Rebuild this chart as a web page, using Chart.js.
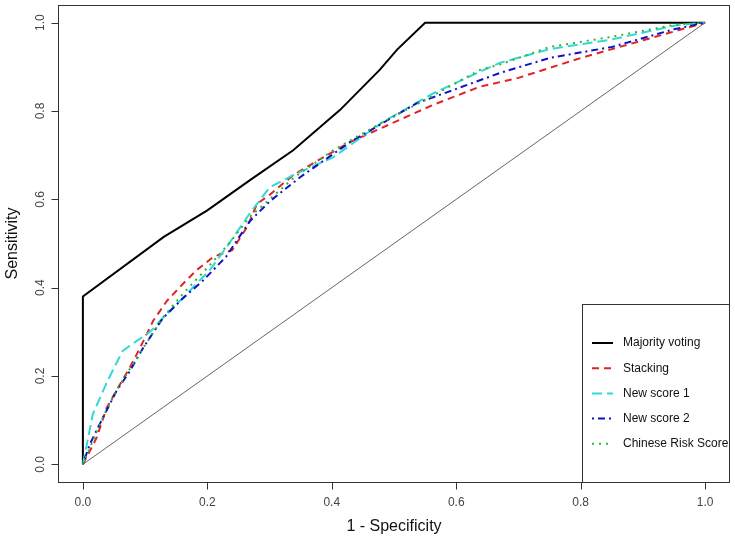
<!DOCTYPE html>
<html>
<head>
<meta charset="utf-8">
<script src="https://cdn.jsdelivr.net/npm/chart.js@4.4.1/dist/chart.umd.min.js"></script>
<style>
  body { margin: 0; background: #fff; }
</style>
</head>
<body>
<canvas id="rocChart" width="735" height="548"></canvas>
<script>
// ROC curves (x = 1 - specificity, y = sensitivity)
const majorityX = [0, 0, 0.13, 0.2, 0.268, 0.338, 0.413, 0.477, 0.505, 0.55, 1];
const majorityY = [0, 0.38, 0.515, 0.575, 0.643, 0.711, 0.802, 0.893, 0.939, 1, 1];

const stackingX = [0, 0.022, 0.038, 0.055, 0.075, 0.092, 0.113, 0.135, 0.161, 0.183, 0.21, 0.24, 0.265, 0.28, 0.3, 0.338, 0.38, 0.43, 0.498, 0.563, 0.638, 0.7, 0.8, 0.9, 1];
const stackingY = [0, 0.06, 0.127, 0.17, 0.218, 0.264, 0.325, 0.37, 0.409, 0.44, 0.47, 0.485, 0.54, 0.59, 0.61, 0.655, 0.69, 0.73, 0.773, 0.814, 0.855, 0.875, 0.92, 0.96, 1];

const score1X = [0, 0.016, 0.04, 0.064, 0.08, 0.108, 0.129, 0.156, 0.204, 0.235, 0.268, 0.3, 0.338, 0.402, 0.482, 0.563, 0.638, 0.67, 0.75, 0.85, 0.95, 1];
const score1Y = [0, 0.114, 0.19, 0.257, 0.273, 0.3, 0.332, 0.37, 0.44, 0.5, 0.568, 0.627, 0.655, 0.695, 0.775, 0.84, 0.889, 0.909, 0.94, 0.962, 0.993, 1];

const score2X = [0, 0.011, 0.032, 0.054, 0.075, 0.097, 0.128, 0.16, 0.193, 0.23, 0.268, 0.3, 0.349, 0.43, 0.537, 0.6, 0.67, 0.75, 0.85, 0.95, 1];
const score2Y = [0, 0.045, 0.105, 0.166, 0.21, 0.264, 0.33, 0.375, 0.416, 0.47, 0.55, 0.595, 0.65, 0.73, 0.818, 0.85, 0.886, 0.92, 0.945, 0.985, 1];

const chineseX = [0, 0.015, 0.035, 0.055, 0.075, 0.1, 0.13, 0.16, 0.2, 0.235, 0.268, 0.3, 0.34, 0.402, 0.482, 0.563, 0.638, 0.67, 0.75, 0.85, 0.95, 1];
const chineseY = [0, 0.05, 0.115, 0.17, 0.215, 0.27, 0.335, 0.385, 0.445, 0.5, 0.56, 0.6, 0.65, 0.711, 0.775, 0.835, 0.893, 0.905, 0.945, 0.968, 0.995, 1];

const diagX = [0, 1];
const diagY = [0, 1];

const tickValues = [0, 0.2, 0.4, 0.6, 0.8, 1.0];
const tickLabels = ['0.0', '0.2', '0.4', '0.6', '0.8', '1.0'];

const legendOrder = ['Majority voting', 'Stacking', 'New score 1', 'New score 2', 'Chinese Risk Score'];

function pts(xs, ys) {
    return xs.map((x, i) => ({ x: x, y: ys[i] }));
}

// axes, box, titles and legend drawn R-style
const baseGraphics = {
    id: 'baseGraphics',
    beforeDraw(chart) {
        const c = chart.ctx;
        c.save();
        c.fillStyle = '#fff';
        c.fillRect(0, 0, chart.width, chart.height);
        c.restore();
    },
    afterDraw(chart) {
        const c = chart.ctx;
        const a = chart.chartArea;
        const xs = chart.scales.x, ys = chart.scales.y;
        c.save();
        c.strokeStyle = '#333';
        c.lineWidth = 1;
        c.strokeRect(a.left + 0.5, a.top + 0.5, a.right - a.left - 1, a.bottom - a.top);

        // x axis
        const x0 = Math.round(xs.getPixelForValue(0)) + 0.5;
        const x1 = Math.round(xs.getPixelForValue(1)) + 0.5;
        const by = Math.round(a.bottom) + 0.5;
        c.beginPath();
        c.moveTo(x0, by); c.lineTo(x1, by);
        tickValues.forEach(v => {
            const px = Math.round(xs.getPixelForValue(v)) + 0.5;
            c.moveTo(px, by); c.lineTo(px, by + 7);
        });
        c.stroke();

        // y axis
        const lx = Math.round(a.left) + 0.5;
        c.beginPath();
        tickValues.forEach(v => {
            const py = Math.round(ys.getPixelForValue(v)) + 0.5;
            c.moveTo(lx, py); c.lineTo(lx - 7, py);
        });
        c.stroke();

        c.fillStyle = '#444';
        c.font = '12px "Liberation Sans", Arial, sans-serif';
        c.textAlign = 'center';
        c.textBaseline = 'middle';
        tickValues.forEach((v, i) => {
            c.fillText(tickLabels[i], xs.getPixelForValue(v), 503);
        });
        tickValues.forEach((v, i) => {
            c.save();
            c.translate(41, ys.getPixelForValue(v));
            c.rotate(-Math.PI / 2);
            c.fillText(tickLabels[i], 0, 0);
            c.restore();
        });

        c.fillStyle = '#111';
        c.font = '16px "Liberation Sans", Arial, sans-serif';
        c.fillText('1 - Specificity', (xs.getPixelForValue(0) + xs.getPixelForValue(1)) / 2, 527);
        c.save();
        c.translate(13, (ys.getPixelForValue(0) + ys.getPixelForValue(1)) / 2);
        c.rotate(-Math.PI / 2);
        c.fillText('Sensitivity', 0, 0);
        c.restore();

        // legend, bottom right
        const lgLeft = 582, lgTop = 304;
        c.strokeStyle = '#333';
        c.lineWidth = 1;
        c.strokeRect(lgLeft + 0.5, lgTop + 0.5, a.right - lgLeft - 1, a.bottom - lgTop);
        c.font = '12px "Liberation Sans", Arial, sans-serif';
        c.textAlign = 'left';
        c.fillStyle = '#111';
        let rowY = 343;
        legendOrder.forEach(name => {
            const ds = chart.data.datasets.find(d => d.label === name);
            c.beginPath();
            c.strokeStyle = ds.borderColor;
            c.lineWidth = ds.borderWidth;
            c.setLineDash(ds.borderDash || []);
            c.moveTo(592, rowY); c.lineTo(613, rowY);
            c.stroke();
            c.setLineDash([]);
            c.fillText(ds.label, 623, rowY);
            rowY += 25.2;
        });
        c.restore();
    }
};

const ctx = document.getElementById('rocChart').getContext('2d');
const rocChart = new Chart(ctx, {
    type: 'scatter',
    data: {
        datasets: [{
            label: 'diagonal',
            data: pts(diagX, diagY),
            borderColor: '#666',
            borderWidth: 1
        }, {
            label: 'Chinese Risk Score',
            data: pts(chineseX, chineseY),
            borderColor: '#2fb82f',
            borderWidth: 2,
            borderDash: [2, 5]
        }, {
            label: 'New score 2',
            data: pts(score2X, score2Y),
            borderColor: '#1010c8',
            borderWidth: 2,
            borderDash: [2, 4, 7, 4]
        }, {
            label: 'New score 1',
            data: pts(score1X, score1Y),
            borderColor: '#30d8d8',
            borderWidth: 2,
            borderDash: [10, 5]
        }, {
            label: 'Stacking',
            data: pts(stackingX, stackingY),
            borderColor: '#e02424',
            borderWidth: 2,
            borderDash: [7, 5]
        }, {
            label: 'Majority voting',
            data: pts(majorityX, majorityY),
            borderColor: '#000',
            borderWidth: 2
        }]
    },
    options: {
        responsive: false,
        animation: false,
        showLine: true,
        elements: {
            point: { radius: 0, hoverRadius: 0 },
            line: { tension: 0, fill: false }
        },
        layout: { padding: { top: 5, right: 5, left: 0, bottom: 0 } },
        plugins: {
            legend: { display: false },
            tooltip: { enabled: false }
        },
        scales: {
            x: {
                type: 'linear',
                min: -0.04,
                max: 1.04,
                grid: { display: false },
                border: { display: false },
                ticks: { display: false },
                afterFit: s => { s.height = 66; }
            },
            y: {
                type: 'linear',
                min: -0.04,
                max: 1.04,
                grid: { display: false },
                border: { display: false },
                ticks: { display: false },
                afterFit: s => { s.width = 58; }
            }
        }
    },
    plugins: [baseGraphics]
});
</script>
</body>
</html>
